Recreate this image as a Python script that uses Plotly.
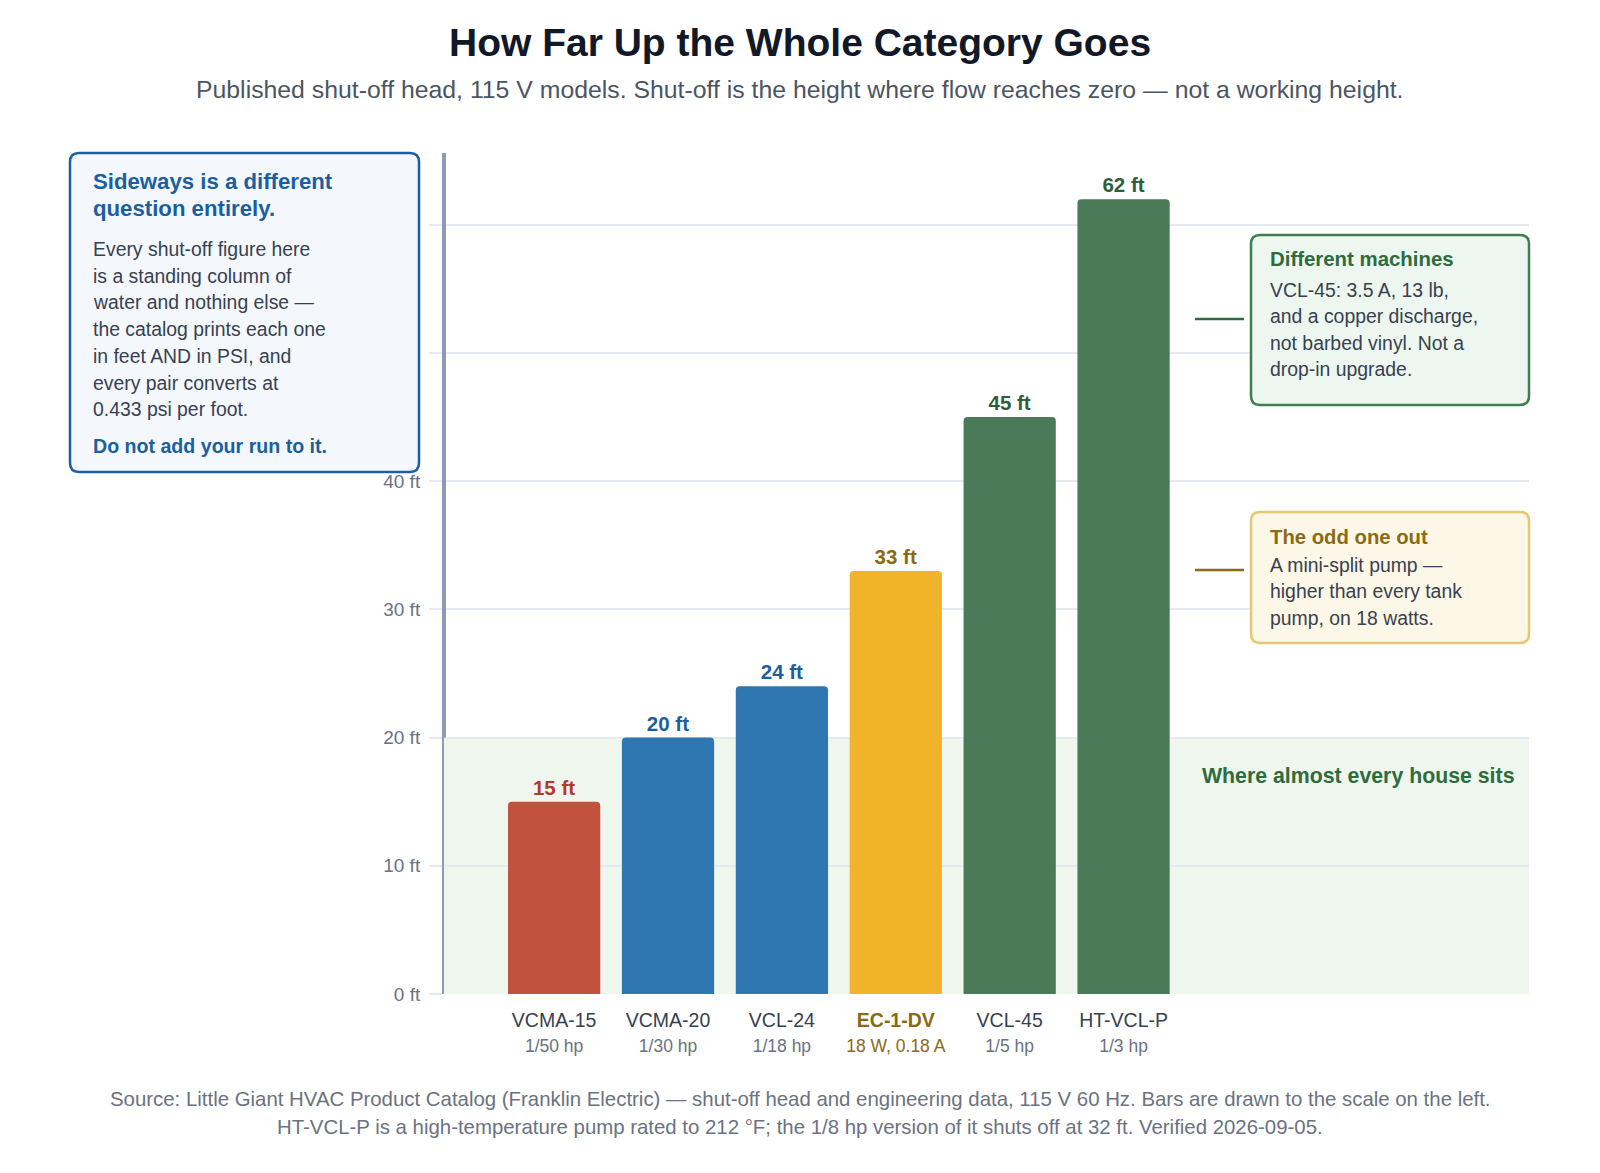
import plotly.graph_objects as go

# ---- data ----
models = ["VCMA-15", "VCMA-20", "VCL-24", "EC-1-DV", "VCL-45", "HT-VCL-P"]
ratings = ["1/50 hp", "1/30 hp", "1/18 hp", "18 W, 0.18 A", "1/5 hp", "1/3 hp"]
shutoff_ft = [15, 20, 24, 33, 45, 62]
groups = ["low", "mid", "mid", "odd", "high", "high"]
y_ticks = [0, 10, 20, 30, 40, 50, 60]
y_tick_labels = ["0 ft", "10 ft", "20 ft", "30 ft", "40 ft", "", ""]
house_band = [0, 20]

bar_colors = {"low": "#c0523e", "mid": "#2f77b1", "odd": "#f0b32a", "high": "#4b7a59"}
label_colors = {"low": "#b33a2a", "mid": "#1d5f9e", "odd": "#8a6a14", "high": "#2e5e3a"}

FONT = "Liberation Sans, Arial, Helvetica, sans-serif"
W, H = 1600, 1173
L, R, T, B = 444, 1529, 153, 994
PW, PH = R - L, B - T


def px_x(px):
    return (px - L) / PW


def px_y(py):
    return (B - py) / PH


def rounded_rect(x0, y0, x1, y1, r):
    # pixel coords -> paper path
    def P(x, y):
        return f"{px_x(x):.5f},{px_y(y):.5f}"
    return (f"M {P(x0 + r, y0)} L {P(x1 - r, y0)} Q {P(x1, y0)} {P(x1, y0 + r)} "
            f"L {P(x1, y1 - r)} Q {P(x1, y1)} {P(x1 - r, y1)} "
            f"L {P(x0 + r, y1)} Q {P(x0, y1)} {P(x0, y1 - r)} "
            f"L {P(x0, y0 + r)} Q {P(x0, y0)} {P(x0 + r, y0)} Z")


tick_text = []
for m, rt, g in zip(models, ratings, groups):
    if g == "odd":
        tick_text.append(f"<b><span style='color:#8a6a14'>{m}</span></b><br>"
                         f"<span style='font-size:17.5px;color:#8a6a14'>{rt}</span>")
    else:
        tick_text.append(f"{m}<br><span style='font-size:17.5px;color:#6b7280'>{rt}</span>")

fig = go.Figure()
fig.add_trace(go.Bar(
    x=models, y=shutoff_ft,
    marker=dict(color=[bar_colors[g] for g in groups], line=dict(width=0)),
    width=0.81,
    text=[f"<b>{v} ft</b>" for v in shutoff_ft],
    textposition="outside",
    textfont=dict(size=20.5, color=[label_colors[g] for g in groups], family=FONT),
    cliponaxis=False,
    hoverinfo="skip",
))

shapes = []
# house band
shapes.append(dict(type="rect", xref="paper", yref="y", x0=0, x1=1,
                   y0=house_band[0], y1=house_band[1],
                   fillcolor="#eef6ee", line=dict(width=0), layer="below"))
# thick axis segment above band
shapes.append(dict(type="line", xref="paper", yref="paper", x0=0, x1=0,
                   y0=px_y(737.6), y1=1, line=dict(color="#8e9bb5", width=4)))
# boxes
shapes.append(dict(type="path", xref="paper", yref="paper",
                   path=rounded_rect(70, 153, 419, 472, 9),
                   fillcolor="#f4f8fc", line=dict(color="#1a5fa0", width=2.5), layer="above"))
shapes.append(dict(type="path", xref="paper", yref="paper",
                   path=rounded_rect(1251, 235, 1529, 405, 9),
                   fillcolor="#eef7ef", line=dict(color="#3f7d4f", width=2.5), layer="above"))
shapes.append(dict(type="path", xref="paper", yref="paper",
                   path=rounded_rect(1251, 512, 1529, 643, 9),
                   fillcolor="#fdf7e7", line=dict(color="#e5c870", width=2.5), layer="above"))
# connectors
shapes.append(dict(type="line", xref="paper", yref="paper", x0=px_x(1195), x1=px_x(1244),
                   y0=px_y(319), y1=px_y(319), line=dict(color="#2e6b3d", width=2.5)))
shapes.append(dict(type="line", xref="paper", yref="paper", x0=px_x(1195), x1=px_x(1244),
                   y0=px_y(570), y1=px_y(570), line=dict(color="#8a6a14", width=2.5)))

annotations = []


def txt(text, px, py, size, color, bold=False, anchor="left"):
    annotations.append(dict(
        text=f"<b>{text}</b>" if bold else text,
        x=px_x(px), y=px_y(py), xref="paper", yref="paper",
        xanchor=anchor, yanchor="middle", showarrow=False,
        font=dict(size=size, color=color, family=FONT)))


# title / subtitle
txt("How Far Up the Whole Category Goes", 800, 43, 39, "#111827", bold=True, anchor="center")
txt("Published shut-off head, 115 V models. Shut-off is the height where flow reaches zero \u2014 not a working height.",
    800, 89, 24.8, "#4b5563", anchor="center")

# left box
txt("Sideways is a different", 91, 181, 22.2, "#1a5fa0", bold=True)
txt("question entirely.", 91, 209, 22.2, "#1a5fa0", bold=True)
left_lines = ["Every shut-off figure here", "is a standing column of",
              "water and nothing else \u2014", "the catalog prints each one",
              "in feet AND in PSI, and", "every pair converts at", "0.433 psi per foot."]
for i, ln in enumerate(left_lines):
    txt(ln, 91, 249 + i * 26.7, 19.4, "#374151")
txt("Do not add your run to it.", 91, 446, 19.6, "#1a5fa0", bold=True)

# green box
txt("Different machines", 1268, 259, 20.4, "#2e6b3d", bold=True)
for i, ln in enumerate(["VCL-45: 3.5 A, 13 lb,", "and a copper discharge,",
                        "not barbed vinyl. Not a", "drop-in upgrade."]):
    txt(ln, 1268, 290 + i * 26.4, 19.4, "#374151")

# gold box
txt("The odd one out", 1268, 537, 20.3, "#8a6a14", bold=True)
for i, ln in enumerate(["A mini-split pump \u2014", "higher than every tank", "pump, on 18 watts."]):
    txt(ln, 1268, 565 + i * 26.4, 19.4, "#374151")

# band label
txt("Where almost every house sits", 1516, 776, 21.3, "#2e6b3d", bold=True, anchor="right")

# footer
txt("Source: Little Giant HVAC Product Catalog (Franklin Electric) \u2014 shut-off head and engineering data, 115 V 60 Hz. Bars are drawn to the scale on the left.",
    800, 1099, 20.4, "#6b7280", anchor="center")
txt("HT-VCL-P is a high-temperature pump rated to 212 \u00b0F; the 1/8 hp version of it shuts off at 32 ft. Verified 2026-09-05.",
    800, 1127, 20.4, "#6b7280", anchor="center")

fig.update_layout(
    width=W, height=H,
    margin=dict(l=L, r=W - R, t=T, b=H - B),
    paper_bgcolor="white", plot_bgcolor="white",
    showlegend=False, bargap=0.19, barcornerradius=4,
    font=dict(family=FONT, color="#374151"),
    shapes=shapes, annotations=annotations,
    xaxis=dict(type="category", range=[-0.967, 8.56], showgrid=False, zeroline=False,
               showline=False, ticks="", tickmode="array", tickvals=models, ticktext=tick_text,
               tickfont=dict(size=19.5, color="#374151", family=FONT), ticklabelstandoff=12),
    yaxis=dict(range=[0, 65.6], tickmode="array", tickvals=y_ticks, ticktext=y_tick_labels,
               showgrid=True, gridcolor="#e6e9ef", gridwidth=1.5, zeroline=False,
               showline=True, linecolor="#8e9bb5", linewidth=2,
               ticks="outside", ticklen=13, tickcolor="#e6e9ef", tickwidth=1.5,
               tickfont=dict(size=19, color="#6b7280", family=FONT), ticklabelstandoff=5),
)

fig.write_html("out.html")
